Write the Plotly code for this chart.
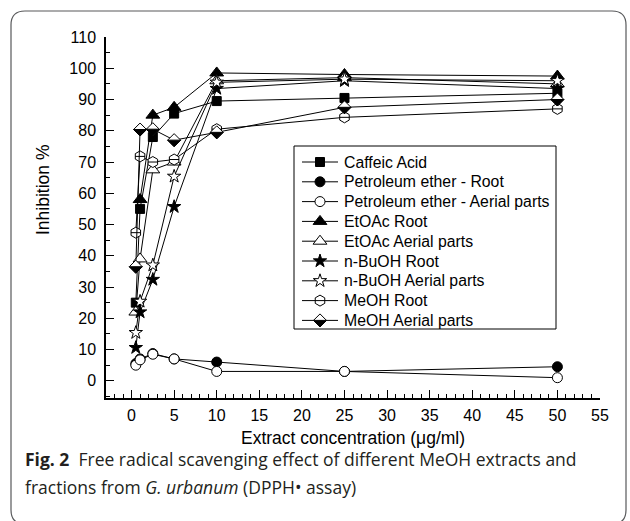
import plotly.graph_objects as go

# ---------------- data ----------------
conc = [0.5, 1, 2.5, 5, 10, 25, 50]
series_names = ["Caffeic Acid", "Petroleum ether - Root", "Petroleum ether - Aerial parts",
                "EtOAc Root", "EtOAc Aerial parts", "n-BuOH Root", "n-BuOH Aerial parts",
                "MeOH Root", "MeOH Aerial parts"]
caffeic = [25, 55, 78, 85.5, 89.5, 90.5, 92]
pet_root = [5.5, 7, 8.7, 7, 6, 3, 4.5]
pet_aerial = [5, 6.7, 8.5, 7, 3, 3, 1]
etoac_root = [None, 58, 85, 87.5, 98.5, 98, 97.5]
etoac_aerial = [22, 39, 67.5, 70, 96, 97, 95]
nbuoh_root = [10.6, 22, 32.4, 55.7, 93.5, 96, 93.5]
nbuoh_aerial = [15.4, 25.4, 37, 65.4, 95.5, 96.5, 96]
meoh_root = [47.4, 71.8, 70, 70.8, 80.5, 84.3, 87]
meoh_aerial = [36.5, 80.4, 80.5, 77, 79.5, 87.5, 90]
x_ticks = list(range(0, 60, 5))
y_ticks = list(range(0, 120, 10))

values = [caffeic, pet_root, pet_aerial, etoac_root, etoac_aerial,
          nbuoh_root, nbuoh_aerial, meoh_root, meoh_aerial]

# marker styles: (symbol, size, fill)
styles = [("square", 9, "black"), ("circle", 10, "black"), ("circle", 10, "white"),
          ("triangle-up", 12, "black"), ("triangle-up", 12, "white"),
          ("star", 10, "black"), ("star", 10, "white"),
          ("hexagon", 11, "white"), ("diamond", 10, "white")]

# ---------------- layout geometry (pixels) ----------------
W, H = 630, 521
L, R, T, B = 106, 600, 37, 398
def px(x):
    return (x - L) / (R - L)
def py(y):
    return (B - y) / (B - T)

LB = (294, 146, 556, 329)  # legend box left, top, right, bottom
leg_y0 = 162
leg_dy = 19.8

fig = go.Figure()

# main data traces
for name, vals, (sym, size, fill) in zip(series_names, values, styles):
    fig.add_trace(go.Scatter(
        x=conc, y=vals, mode="lines+markers", name=name, showlegend=False,
        line=dict(color="black", width=1),
        marker=dict(symbol=sym, size=size, color=fill, line=dict(color="black", width=1)),
        connectgaps=False, xaxis="x", yaxis="y"))
    if name == "MeOH Root":
        fig.add_trace(go.Scatter(
            x=conc, y=vals, mode="markers", showlegend=False, hoverinfo="skip",
            marker=dict(symbol="line-ew", size=7, line=dict(color="black", width=1)),
            xaxis="x", yaxis="y"))

# ---------------- manual legend on an inset axis (units = pixels) ----------------
lw = LB[2] - LB[0]
lh = LB[3] - LB[1]
for i, (name, (sym, size, fill)) in enumerate(zip(series_names, styles)):
    yc = leg_y0 + leg_dy * i - LB[1]
    fig.add_trace(go.Scatter(
        x=[8, 44], y=[yc, yc], mode="lines", showlegend=False, hoverinfo="skip",
        line=dict(color="black", width=1), xaxis="x2", yaxis="y2"))
    fig.add_trace(go.Scatter(
        x=[26], y=[yc], mode="markers", showlegend=False, hoverinfo="skip",
        marker=dict(symbol=sym, size=size, color=fill, line=dict(color="black", width=1)),
        xaxis="x2", yaxis="y2"))
    if name == "MeOH Root":
        fig.add_trace(go.Scatter(
            x=[26], y=[yc], mode="markers", showlegend=False, hoverinfo="skip",
            marker=dict(symbol="line-ew", size=7, line=dict(color="black", width=1)),
            xaxis="x2", yaxis="y2"))
    fig.add_annotation(x=48, y=yc, xref="x2", yref="y2", text=name, showarrow=False,
                       xanchor="left", yanchor="middle",
                       font=dict(family="Liberation Sans, Arial", size=15.8, color="black"))

shapes = []
# half-filled (lower half black) diamonds for MeOH Aerial parts
rd = 1.3 * styles[8][1] / 2
half_path = f"M{-rd},0 L{rd},0 L0,{-rd} Z"
for xv, yv in zip(conc, meoh_aerial):
    shapes.append(dict(type="path", xref="x", yref="y", xsizemode="pixel", ysizemode="pixel",
                       xanchor=xv, yanchor=yv, path=half_path,
                       fillcolor="black", line=dict(color="black", width=1)))
shapes.append(dict(type="path", xref="x2", yref="y2", xsizemode="pixel", ysizemode="pixel",
                   xanchor=26, yanchor=leg_y0 + leg_dy * 8 - LB[1], path=half_path,
                   fillcolor="black", line=dict(color="black", width=1)))
# legend box
shapes.append(dict(type="rect", xref="x2 domain", yref="y2 domain", x0=0, x1=1, y0=0, y1=1,
                   line=dict(color="black", width=1), layer="below"))

# outer rounded frame
fl, ft, fr, fb, rad = 11, 11, 626, 524, 14
def P(x, y):
    return f"{px(x):.5f},{py(y):.5f}"
frame = (f"M{P(fl, ft + rad)} Q{P(fl, ft)} {P(fl + rad, ft)} L{P(fr - rad, ft)} "
         f"Q{P(fr, ft)} {P(fr, ft + rad)} L{P(fr, fb - rad)} Q{P(fr, fb)} {P(fr - rad, fb)} "
         f"L{P(fl + rad, fb)} Q{P(fl, fb)} {P(fl, fb - rad)} Z")
shapes.append(dict(type="path", xref="paper", yref="paper", path=frame,
                   line=dict(color="#58595b", width=1.2)))

fig.update_layout(shapes=shapes)

tickfont = dict(family="Liberation Sans, Arial", size=16, color="black")
fig.update_layout(
    width=W, height=H,
    margin=dict(l=L, r=W - R, t=T, b=H - B),
    paper_bgcolor="white", plot_bgcolor="rgba(0,0,0,0)",
    xaxis=dict(domain=[0, 1], range=[-3, 55], tickmode="array", tickvals=x_ticks,
               ticks="inside", ticklen=8, tickwidth=1.2, tickcolor="black",
               showline=True, linecolor="black", linewidth=1.5,
               showgrid=False, zeroline=False, tickfont=tickfont, ticklabelstandoff=2,
               minor=dict(dtick=1, tick0=0, ticks="inside", ticklen=4, tickwidth=1, tickcolor="black"),
               anchor="y"),
    yaxis=dict(domain=[0, 1], range=[-5.5, 110], tickmode="array", tickvals=y_ticks,
               ticks="inside", ticklen=8, tickwidth=1.2, tickcolor="black",
               showline=True, linecolor="black", linewidth=1.5,
               showgrid=False, zeroline=False, tickfont=tickfont, ticklabelstandoff=5,
               minor=dict(dtick=5, tick0=0, ticks="inside", ticklen=4, tickwidth=1, tickcolor="black"),
               anchor="x"),
    xaxis2=dict(domain=[px(LB[0]), px(LB[2])], range=[0, lw], visible=False, anchor="y2",
                fixedrange=True),
    yaxis2=dict(domain=[py(LB[3]), py(LB[1])], range=[lh, 0], visible=False, anchor="x2",
                fixedrange=True),
)

# axis titles
titlefont = dict(family="Liberation Sans, Arial", size=17.5, color="black")
fig.add_annotation(x=px(353), y=py(438), xref="paper", yref="paper",
                   text="Extract concentration (μg/ml)", showarrow=False,
                   xanchor="center", yanchor="middle", font=titlefont)
fig.add_annotation(x=px(43), y=py(190), xref="paper", yref="paper",
                   text="Inhibition %", showarrow=False, textangle=-90,
                   xanchor="center", yanchor="middle", font=titlefont)

# caption
capfont = dict(family="Open Sans", size=17.5, color="#231f20")
fig.add_annotation(x=px(23), y=py(459), xref="paper", yref="paper",
                   text="<b>Fig. 2</b>\u00a0\u00a0Free radical scavenging effect of different MeOH extracts and",
                   showarrow=False, xanchor="left", yanchor="middle", font=capfont)
fig.add_annotation(x=px(23), y=py(487), xref="paper", yref="paper",
                   text="fractions from <i>G. urbanum</i> (DPPH\u2022 assay)",
                   showarrow=False, xanchor="left", yanchor="middle", font=capfont)

fig.write_html("out.html", config={"displayModeBar": False},
               post_script="document.body.style.margin='0';document.body.style.overflow='hidden';")
